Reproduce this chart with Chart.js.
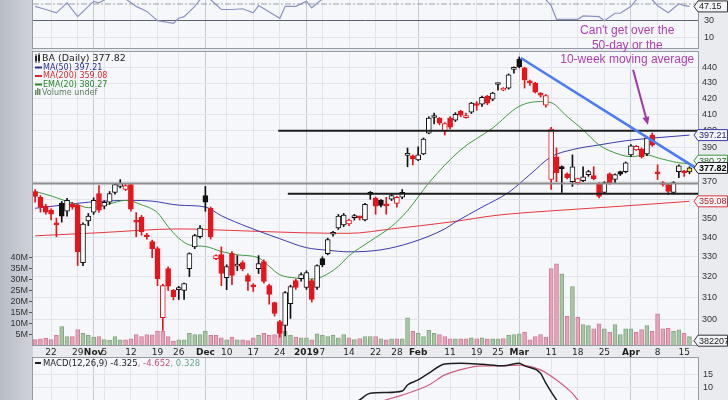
<!DOCTYPE html>
<html><head><meta charset="utf-8">
<script src="https://cdn.jsdelivr.net/npm/chart.js@4.4.1/dist/chart.umd.min.js"></script>
<style>
html,body{margin:0;padding:0;background:#e9ebef;}
#wrap{position:relative;width:728px;height:400px;overflow:hidden;background:#e9ebef;}
#strip{position:absolute;left:0;top:0;width:33px;height:400px;background:linear-gradient(90deg,#b8bcc5,#d0d3da);}
canvas{position:absolute;left:0;}
#cRsi{top:0;z-index:1}
#cMacd{top:356px;z-index:1}
#cPrice{top:0;z-index:2}
</style></head><body>
<div id="wrap"><div id="strip"></div>
<canvas id="cRsi" width="728" height="50"></canvas>
<canvas id="cMacd" width="728" height="44"></canvas>
<canvas id="cPrice" width="728" height="400"></canvas>
</div>
<script>
// ---------- DATA ----------
const dates = ['Oct 17','Oct 18','Oct 19','Oct 22','Oct 23','Oct 24','Oct 25','Oct 26','Oct 29','Oct 30','Oct 31',
'Nov 1','Nov 2','Nov 5','Nov 6','Nov 7','Nov 8','Nov 9','Nov 12','Nov 13','Nov 14','Nov 15','Nov 16','Nov 19','Nov 20','Nov 21','Nov 23','Nov 26','Nov 27','Nov 28','Nov 29','Nov 30',
'Dec 3','Dec 4','Dec 6','Dec 7','Dec 10','Dec 11','Dec 12','Dec 13','Dec 14','Dec 17','Dec 18','Dec 19','Dec 20','Dec 21','Dec 24','Dec 26','Dec 27','Dec 28','Dec 31',
'Jan 2','Jan 3','Jan 4','Jan 7','Jan 8','Jan 9','Jan 10','Jan 11','Jan 14','Jan 15','Jan 16','Jan 17','Jan 18','Jan 22','Jan 23','Jan 24','Jan 25','Jan 28','Jan 29','Jan 30','Jan 31',
'Feb 1','Feb 4','Feb 5','Feb 6','Feb 7','Feb 8','Feb 11','Feb 12','Feb 13','Feb 14','Feb 15','Feb 19','Feb 20','Feb 21','Feb 22','Feb 25','Feb 26','Feb 27','Feb 28',
'Mar 1','Mar 4','Mar 5','Mar 6','Mar 7','Mar 8','Mar 11','Mar 12','Mar 13','Mar 14','Mar 15','Mar 18','Mar 19','Mar 20','Mar 21','Mar 22','Mar 25','Mar 26','Mar 27','Mar 28','Mar 29',
'Apr 1','Apr 2','Apr 3','Apr 4','Apr 5','Apr 8','Apr 9','Apr 10','Apr 11','Apr 12','Apr 15','Apr 16'];
const firstDayIdx = -3; // Oct 22 = day 0

const openP = [364.5,361.3,356.4,
354.3,347.0,358.0,353.7,357.5,357.0,327.1,348.5,353.2,363.4,
356.4,358.6,364.0,367.3,365.6,368.4,348.5,350.6,341.0,337.7,
334.1,300.8,324.1,313.5,313.9,313.5,324.1,335.0,340.2,362.3,
355.3,329.1,331.1,319.7,331.6,325.3,327.1,320.7,315.5,324.1,
327.6,315.8,307.8,299.0,297.2,307.3,318.2,319.2,314.9,318.2,
314.9,329.1,331.6,341.5,344.8,346.4,346.9,350.3,350.6,349.0,
362.9,360.7,359.6,356.8,360.2,358.0,361.3,385.1,384.8,382.5,
386.0,398.4,408.0,407.6,399.6,407.6,406.3,411.9,407.9,411.3,
415.9,416.3,421.5,419.5,429.0,425.4,426.7,439.0,446.0,440.0,
431.4,430.0,423.4,415.7,371.2,384.3,378.5,374.5,370.0,369.5,
370.6,374.0,373.4,368.9,364.0,374.5,371.2,375.7,375.7,385.4,
388.3,388.9,386.0,397.2,375.1,369.5,368.4,364.0,375.7,375.1,
375.5];
const highP = [365.6,362.3,357.5,
355.0,350.0,359.0,360.7,358.6,357.5,347.5,352.5,361.0,367.8,
359.5,364.5,369.0,371.2,368.4,369.0,353.0,351.5,342.0,338.5,
335.0,316.5,325.0,314.0,315.5,317.0,332.0,341.5,346.0,367.3,
356.0,331.0,335.0,326.0,332.6,330.6,328.0,321.5,316.8,330.6,
328.5,316.5,308.0,299.5,313.0,316.0,319.0,322.0,323.0,319.0,
326.0,330.0,339.5,343.0,352.0,352.5,349.5,352.0,351.0,358.0,
364.5,361.5,360.0,361.3,363.0,361.8,365.6,389.5,385.5,390.1,
395.5,408.5,410.7,408.0,404.8,408.5,411.0,412.5,410.7,417.5,
418.0,421.5,422.0,424.0,430.0,427.0,436.0,440.7,447.4,440.5,
432.0,430.5,423.8,422.5,402.0,389.5,379.0,375.0,385.4,372.0,
378.5,376.5,378.5,369.5,370.0,375.0,374.5,376.0,381.3,391.5,
391.0,389.5,396.0,398.5,379.6,370.0,369.0,370.0,379.6,376.5,
378.5];
const lowP = [358.6,353.2,352.1,
349.0,340.2,347.9,351.1,354.8,325.6,325.6,346.0,352.0,353.0,
355.0,357.5,363.0,366.5,365.0,353.7,340.2,341.0,339.0,329.6,
315.8,295.0,313.5,309.0,309.2,309.2,320.2,334.1,339.5,353.7,
339.0,328.5,315.8,313.9,316.3,323.1,323.0,313.5,313.0,321.7,
317.0,307.0,301.5,292.0,292.5,300.4,314.0,318.0,314.0,308.0,
314.0,325.0,331.0,340.5,344.0,345.5,346.0,349.0,349.0,348.5,
360.2,352.1,356.0,352.1,359.5,355.9,360.5,378.5,379.6,382.0,
385.5,398.0,404.0,403.5,397.2,401.0,405.5,408.5,407.5,410.5,
412.5,415.0,416.0,418.5,425.4,425.0,426.0,436.5,440.0,426.7,
428.5,423.5,420.8,414.5,365.6,370.0,364.0,371.5,367.3,368.5,
370.0,373.0,371.0,361.0,363.5,368.5,369.5,373.5,375.0,384.5,
388.0,383.5,385.0,390.5,371.2,367.5,362.9,363.0,372.3,373.0,
374.5];
const closeP = [361.8,355.9,353.2,
352.1,346.4,351.1,359.6,355.9,332.6,346.9,351.1,359.6,354.3,
358.6,363.4,368.4,368.9,367.8,354.8,347.9,342.8,340.2,334.1,
319.2,315.8,315.5,310.6,314.9,316.8,331.6,340.8,344.8,358.6,
340.2,330.6,321.7,325.1,320.7,325.6,324.1,317.8,315.2,326.6,
317.8,311.6,302.7,293.6,312.5,315.4,315.0,321.2,322.2,309.2,
325.6,326.1,338.7,341.8,351.1,351.6,349.0,350.6,350.2,357.5,
363.1,356.4,356.9,356.6,362.3,361.3,364.0,385.6,383.1,385.4,
394.8,407.6,408.2,404.5,404.2,402.0,410.0,409.4,409.2,417.0,
415.5,420.8,417.0,423.4,429.3,426.7,435.4,439.3,440.7,432.0,
430.0,424.1,422.1,421.9,400.8,375.1,377.4,372.3,378.5,371.7,
372.8,375.7,371.7,361.8,369.5,369.3,374.0,374.2,380.8,390.7,
390.5,384.3,395.4,391.2,374.5,368.4,364.5,369.5,379.1,375.0,
377.82];
const prevCloseBeforeFirst = 366.0;
const volumeM = [2.5,2.8,3.1,
2.5,4.4,8.5,3.9,3.9,7.1,5.4,4.4,3.6,3.9,
2.5,2.2,3.9,2.4,2.4,2.8,4.8,3.9,4.8,4.7,
6.4,6.4,3.9,1.8,2.4,2.4,5.4,4.8,4.8,6.4,
4.4,4.4,3.3,2.4,3.6,2.4,2.4,2.0,3.3,4.4,
5.4,4.4,4.8,7.4,6.4,4.4,3.6,3.3,3.3,2.4,
5.1,4.4,3.9,4.4,3.3,4.8,3.3,2.5,3.0,3.9,
3.9,3.9,2.8,2.4,2.8,2.8,2.8,12.5,6.3,5.3,
3.9,6.7,5.4,4.8,3.9,2.8,2.8,2.8,2.8,3.3,
2.8,3.3,2.8,2.8,2.8,3.0,4.4,4.8,5.1,5.9,
2.4,3.9,4.8,3.6,35.0,37.2,32.7,13.2,26.8,12.8,
9.4,8.9,7.4,9.7,7.4,5.9,9.4,4.8,7.4,7.4,
5.9,7.1,8.9,6.3,14.3,7.4,7.7,6.3,7.0,5.5,
3.82];
const volumeLastLabel = '382207';

// overlays (day index, value)
const ma50Idx = [-3,2,7,15,19,24,29,32,37,43,48,52,56,62,68,74,76,81,86,90,94,98,103,108,113,120];
const ma50Val = [355.3,357.0,358.6,359.6,359.2,357.0,356.0,351.3,345.3,339.2,334.6,333.3,332.5,333.5,337.5,344.3,347.9,355.9,364.0,374.0,384.3,388.5,391.3,393.8,395.4,397.21];
const ma200Idx = [-3,9,24,34,47,56,64,75,84,96,107,120];
const ma200Val = [340.7,342.3,344.3,343.5,342.3,342.0,344.3,347.9,351.6,354.3,356.4,359.08];
const emaIdx = [-3,0,3,5,7,9,11,14,17,20,22,24,26,29,32,35,39,41,43,46,49,51,54,56,60,64,67,71,77,83,88,92,94,97,100,103,106,109,112,114,118,120];
const emaVal = [364.5,362.1,359.0,357.2,355.6,356.3,357.7,359.6,357.2,352.9,345.5,339.5,336.0,335.2,332.7,331.0,329.5,325.2,321.1,319.5,319.0,320.2,325.2,330.5,338.0,345.6,354.0,369.3,388.4,401.5,415.0,418.0,417.3,408.6,400.4,391.3,386.6,384.4,385.4,383.7,380.8,380.27];

// drawn annotations (day index, price)
const levelVal  = [399.9, 368.9, 363.3];
const levelFrom = [42.7, -3.4, 44.5];
const trendIdx = [88.3, 121.6];
const trendVal = [446.7, 377.0];
const noteLines = ["Can't get over the", "50-day or the", "10-week moving average"];
const noteAt = [108.3, 465.5];
const arrowFrom = [109.4, 438.7];
const arrowTo = [112.2, 403.4];

// RSI(14)
const rsiIdx = [-3,-1,1,3,5,7,8,9,11,13,14,16,18,20,23,24,25,27,28,29,30,32,34,36,38,39,43,44,46,48,49,51,55,60,67,75,85,92,94,95,99,100,103,104,106,107,109,110,112,113,114,116,118,119,120];
const rsiVal = [47.2,43.5,39.6,51.4,35.1,47.2,53.1,51.4,58,62,56,47.2,41.3,30.4,27.3,33.2,35.1,47.2,55,60,55,43.5,43.5,44.4,39.6,48.2,33.2,47.2,47.2,53.1,45.5,56,62,60,72,68,74,62,48,32,32,35.9,35.1,30.4,39.1,39.1,47.2,55,58,55,48,39.6,50.3,48,47.15];
const rsiTicks = [10, 30];
const rsiMid = 50;

// MACD(12,26,9)
const macdIdx = [-3,10,20,30,43,50,55,58,60,63,66,67,69,71,74,77,81,85,88,89,92,93,95,97,100,105,110,114,120];
const macdVal = [1.5,-2,-6,-8,-11,-6,1,5.0,7.6,7.9,8.5,10.9,12.9,15.6,19.2,19.5,19.1,18.5,19.5,18.5,15.6,11.6,5.0,0,-4,-7,-5,-4,-4.325];
const sigIdx = [-3,20,43,50,56,60,63,66,71,74,78,81,85,88,92,95,98,99,104,110,120];
const sigVal = [2,-4,-9,-7,-2,2.5,5.0,6.9,10.9,14.9,17.5,18.5,18.5,18.8,16.9,12.9,7.6,5.0,-2,-5,-4.652];
const histLast = 0.328;
const macdTicks = [10, 15];

// axes
const tickIdx = [0,5,8,10,15,20,24,29,33,38,43,48,51,56,61,65,69,75,80,84,88,94,99,104,109,114,119];
const tickText = ['22','29','Nov','5','12','19','26','Dec','10','17','24','2019','7','14','22','28','Feb','11','19','25','Mar','11','18','25','Apr','8','15'];
const tickMonth = [0,0,1,0,0,0,0,1,0,0,0,1,0,0,0,0,1,0,0,0,1,0,0,0,1,0,0];
const priceTicks = [290,300,310,320,330,340,350,360,370,380,390,400,410,420,430,440];
const volTicks = [5,10,15,20,25,30,35,40];

// ---------- STYLE / BUILD ----------
const XMIN = -3.4, XMAX = 121.6;
const PANEL_BG = '#f6f7fb';
const FONT = '"DejaVu Sans", sans-serif';
const FONT2 = '"Liberation Sans", Arial, sans-serif';
const dayX = closeP.map((_, i) => i + firstDayIdx);
const lastI = closeP.length - 1;
const upDay = closeP.map((c, i) => c >= (i ? closeP[i - 1] : prevCloseBeforeFirst));
const candleCol = upDay.map(u => u ? '#111111' : '#e8141b');
const bodyFill = closeP.map((c, i) => i === lastI ? '#f3e63c' : (c > openP[i] ? '#ffffff' : candleCol[i]));
const volFill = upDay.map(u => u ? '#a8c6a5' : '#e4a4b8');
const volBorder = upDay.map(u => u ? '#84a781' : '#cf7c99');
const pts = (ix, v) => ix.map((x, k) => ({x, y: v[k]}));

const xGridColor = c => tickMonth[c.index] ? '#c5c9d1' : '#e3e5eb';
function xAxisBase(extra) {
  return Object.assign({
    type: 'linear', min: XMIN, max: XMAX, offset: false,
    afterBuildTicks: s => { s.ticks = tickIdx.map(v => ({value: v})); },
    grid: {drawTicks: false, offset: false, color: xGridColor, lineWidth: 1},
    border: {display: false}
  }, extra);
}
const panelPlugin = {
  id: 'panel',
  beforeDraw(chart) {
    const a = chart.chartArea, c = chart.ctx;
    c.save(); c.fillStyle = PANEL_BG; c.fillRect(a.left, a.top, a.right - a.left, a.bottom - a.top); c.restore();
  }
};
function border(chart) {
  const a = chart.chartArea, c = chart.ctx;
  c.save(); c.strokeStyle = '#959ba6'; c.lineWidth = 1;
  c.strokeRect(a.left - 0.5, a.top - 0.5, a.right - a.left + 1, a.bottom - a.top + 1); c.restore();
}
function tag(c, y, text, col, txtCol, bold) {
  const x0 = 694, x1 = 727.5, h = 11;
  c.save();
  c.beginPath(); c.moveTo(x0, y); c.lineTo(x0 + 4, y - h / 2); c.lineTo(x1, y - h / 2); c.lineTo(x1, y + h / 2); c.lineTo(x0 + 4, y + h / 2); c.closePath();
  c.fillStyle = '#f3f4f7'; c.fill(); c.strokeStyle = col; c.lineWidth = 1; c.stroke();
  c.fillStyle = txtCol; c.font = (bold ? 'bold ' : '') + '9px ' + FONT2; c.textBaseline = 'middle'; c.textAlign = 'left';
  c.fillText(text, x0 + 5, y + 0.5);
  c.restore();
}

// ---------- PRICE PANEL ----------
const pricePlugin = {
  id: 'priceExtras',
  afterDraw(chart) {
    const c = chart.ctx, xs = chart.scales.x, ys = chart.scales.y, vs = chart.scales.vol;
    border(chart);
    // legend
    c.save();
    c.textBaseline = 'middle'; c.textAlign = 'left';
    c.fillStyle = '#222'; c.fillRect(35, 56, 2, 5); c.fillRect(38, 55, 2, 6); c.fillRect(35.5, 54, 1, 9); c.fillRect(38.5, 53, 1, 10);
    c.font = '9.5px ' + FONT; c.fillStyle = '#222'; c.fillText('BA (Daily) ' + closeP[lastI].toFixed(2), 42, 59);
    const leg = [['MA(50) ' + ma50Val[ma50Val.length - 1].toFixed(2), '#2d2d9c', 67.5],
                 ['MA(200) ' + ma200Val[ma200Val.length - 1].toFixed(2), '#e3262c', 76],
                 ['EMA(20) ' + emaVal[emaVal.length - 1].toFixed(2), '#2a872a', 84.5]];
    c.font = '8px ' + FONT;
    leg.forEach(([t, col, y]) => { c.fillStyle = col; c.fillRect(35, y - 1, 7, 2); c.fillText(t, 43, y); });
    c.fillStyle = '#6c8a6a'; c.fillRect(35, 90, 1.5, 5); c.fillRect(37, 88, 1.5, 7); c.fillRect(39, 89, 1.5, 6);
    c.fillStyle = '#5d7c5b'; c.fillText('Volume undef', 42, 93);
    // annotation text
    c.font = '12px ' + FONT2; c.fillStyle = '#b040b4'; c.textAlign = 'center';
    const nx = xs.getPixelForValue(noteAt[0]), ny = ys.getPixelForValue(noteAt[1]);
    noteLines.forEach((t, k) => c.fillText(t, nx, ny + k * 14.5));
    // arrow
    const ax0 = xs.getPixelForValue(arrowFrom[0]), ay0 = ys.getPixelForValue(arrowFrom[1]);
    const ax1 = xs.getPixelForValue(arrowTo[0]), ay1 = ys.getPixelForValue(arrowTo[1]);
    const ang = Math.atan2(ay1 - ay0, ax1 - ax0);
    c.strokeStyle = '#9b3aa8'; c.fillStyle = '#9b3aa8'; c.lineWidth = 2;
    c.beginPath(); c.moveTo(ax0, ay0); c.lineTo(ax1 - 6 * Math.cos(ang), ay1 - 6 * Math.sin(ang)); c.stroke();
    c.beginPath(); c.moveTo(ax1, ay1);
    c.lineTo(ax1 - 8 * Math.cos(ang) + 3.5 * Math.sin(ang), ay1 - 8 * Math.sin(ang) - 3.5 * Math.cos(ang));
    c.lineTo(ax1 - 8 * Math.cos(ang) - 3.5 * Math.sin(ang), ay1 - 8 * Math.sin(ang) + 3.5 * Math.cos(ang));
    c.closePath(); c.fill();
    c.restore();
    // value tags
    tag(c, ys.getPixelForValue(ma50Val[ma50Val.length - 1]), ma50Val[ma50Val.length - 1].toFixed(2), '#3a3ab0', '#23236e', false);
    tag(c, ys.getPixelForValue(emaVal[emaVal.length - 1]) - 3, emaVal[emaVal.length - 1].toFixed(2), '#3a9a3a', '#2a6a2a', false);
    tag(c, ys.getPixelForValue(ma200Val[ma200Val.length - 1]), ma200Val[ma200Val.length - 1].toFixed(2), '#e0383c', '#b02428', false);
    tag(c, Math.min(vs.getPixelForValue(volumeM[lastI]) + 4, 341), volumeLastLabel, '#333', '#222', false);
    tag(c, ys.getPixelForValue(closeP[lastI]), closeP[lastI].toFixed(2), '#222', '#000', true);
  }
};

const lineDs = (data, col, w, order, extra) => Object.assign({type: 'line', data, borderColor: col, borderWidth: w, pointRadius: 0, fill: false, order, yAxisID: 'y'}, extra || {});
const priceDatasets = [];
priceDatasets.push(lineDs(pts(trendIdx, trendVal), '#4b7cf2', 2.6, 0));
levelVal.forEach((v, k) => priceDatasets.push(lineDs([{x: levelFrom[k], y: v}, {x: XMAX, y: v}], k === 1 ? '#8c8c8c' : '#1e1e1e', 2, 0)));
priceDatasets.push({type: 'bar', data: dayX.map((x, i) => ({x, y: [openP[i], closeP[i]]})), backgroundColor: bodyFill, borderColor: candleCol, borderWidth: 1, borderSkipped: false, barThickness: 5, minBarLength: 2, grouped: false, order: 1, yAxisID: 'y'});
priceDatasets.push({type: 'bar', data: dayX.map((x, i) => ({x, y: [lowP[i], highP[i]]})), backgroundColor: candleCol, borderWidth: 0, barThickness: 1, grouped: false, order: 2, yAxisID: 'y'});
priceDatasets.push(lineDs(pts(emaIdx, emaVal), '#3f9a3f', 1, 3, {cubicInterpolationMode: 'monotone'}));
priceDatasets.push(lineDs(pts(ma50Idx, ma50Val), '#3b3bb0', 1, 3, {cubicInterpolationMode: 'monotone'}));
priceDatasets.push(lineDs(pts(ma200Idx, ma200Val), '#e4383c', 1, 3, {cubicInterpolationMode: 'monotone'}));
priceDatasets.push({type: 'bar', data: dayX.map((x, i) => ({x, y: volumeM[i]})), backgroundColor: volFill, borderColor: volBorder, borderWidth: 1, barThickness: 4, grouped: false, order: 9, yAxisID: 'vol'});

new Chart(document.getElementById('cPrice'), {
  type: 'bar',
  data: {labels: dates, datasets: priceDatasets},
  options: {
    responsive: false, animation: false, devicePixelRatio: 1,
    layout: {padding: {top: 52, left: 0, right: 0, bottom: 0}},
    plugins: {legend: {display: false}, tooltip: {enabled: false}},
    scales: {
      x: xAxisBase({
        position: 'bottom',
        afterFit: s => { s.height = 55; s.paddingLeft = 0; s.paddingRight = 0; },
        ticks: {autoSkip: false, maxRotation: 0, minRotation: 0, padding: 2, color: '#1e1e1e',
          callback: (v, i) => tickText[i],
          font: c => ({family: FONT, size: 9, weight: tickMonth[c.index] ? 'bold' : 'normal'})}
      }),
      y: {type: 'logarithmic', position: 'right', min: 288.5, max: 450.8,
        afterBuildTicks: s => { s.ticks = priceTicks.map(v => ({value: v})); },
        afterFit: s => { s.width = 30; s.paddingTop = 0; s.paddingBottom = 0; },
        ticks: {padding: 4, color: '#333', font: {family: FONT2, size: 9}, callback: v => String(v)},
        grid: {drawTicks: false, color: '#e3e5eb'}, border: {display: false}},
      vol: {type: 'linear', position: 'left', min: 0, max: 134.4,
        afterBuildTicks: s => { s.ticks = volTicks.map(v => ({value: v})); },
        afterFit: s => { s.width = 33; s.paddingTop = 0; s.paddingBottom = 0; },
        ticks: {padding: 1, color: '#333', font: {family: FONT2, size: 9}, callback: v => v + 'M'},
        grid: {drawOnChartArea: false, drawTicks: true, tickLength: 4, color: '#555'}, border: {display: false}}
    }
  },
  plugins: [panelPlugin, pricePlugin]
});

// ---------- RSI PANEL ----------
new Chart(document.getElementById('cRsi'), {
  type: 'line',
  data: {datasets: [
    {data: pts(rsiIdx, rsiVal), borderColor: '#8b93c2', borderWidth: 1.2, pointRadius: 0, tension: 0},
    {data: [{x: XMIN, y: rsiMid}, {x: XMAX, y: rsiMid}], borderColor: '#9aa0aa', borderWidth: 1, borderDash: [6, 2, 2, 2], pointRadius: 0}
  ]},
  options: {
    responsive: false, animation: false, devicePixelRatio: 1,
    layout: {padding: {left: 33, top: 0, right: 0, bottom: 0}},
    plugins: {legend: {display: false}, tooltip: {enabled: false}},
    scales: {
      x: xAxisBase({ticks: {display: false}, afterFit: s => { s.height = 2; s.paddingLeft = 0; s.paddingRight = 0; }}),
      y: {type: 'linear', position: 'right', min: -1.8, max: 54.7,
        afterBuildTicks: s => { s.ticks = rsiTicks.map(v => ({value: v})); },
        afterFit: s => { s.width = 30; s.paddingTop = 0; s.paddingBottom = 0; },
        ticks: {padding: 6, color: '#333', font: {family: FONT2, size: 9}},
        grid: {drawTicks: false, color: c => (c.tick && c.tick.value === 30) ? '#5d636e' : '#e3e5eb'}, border: {display: false}}
    }
  },
  plugins: [panelPlugin, {id: 'rsiExtras', afterDraw(chart) {
    border(chart);
    tag(chart.ctx, chart.scales.y.getPixelForValue(rsiVal[rsiVal.length - 1]), rsiVal[rsiVal.length - 1].toFixed(2), '#333', '#222', false);
  }}]
});

// ---------- MACD PANEL ----------
new Chart(document.getElementById('cMacd'), {
  type: 'line',
  data: {datasets: [
    {data: pts(macdIdx, macdVal), borderColor: '#1e1e1e', borderWidth: 1.5, pointRadius: 0, cubicInterpolationMode: 'monotone'},
    {data: pts(sigIdx, sigVal), borderColor: '#cf5f80', borderWidth: 1.2, pointRadius: 0, cubicInterpolationMode: 'monotone'}
  ]},
  options: {
    responsive: false, animation: false, devicePixelRatio: 1,
    layout: {padding: {left: 33, top: 2, right: 0, bottom: 0}},
    plugins: {legend: {display: false}, tooltip: {enabled: false}},
    scales: {
      x: xAxisBase({ticks: {display: false}, afterFit: s => { s.height = 0; s.paddingLeft = 0; s.paddingRight = 0; }}),
      y: {type: 'linear', position: 'right', min: 4.96, max: 21.6,
        afterBuildTicks: s => { s.ticks = macdTicks.map(v => ({value: v})); },
        afterFit: s => { s.width = 30; s.paddingTop = 0; s.paddingBottom = 0; },
        ticks: {padding: 5, color: '#333', font: {family: FONT2, size: 9}},
        grid: {drawTicks: false, color: '#e3e5eb'}, border: {display: false}}
    }
  },
  plugins: [panelPlugin, {id: 'macdExtras', afterDraw(chart) {
    border(chart);
    const c = chart.ctx; c.save();
    c.textBaseline = 'middle'; c.textAlign = 'left'; c.font = '8.5px ' + FONT;
    c.fillStyle = '#1e1e1e'; c.fillRect(35, 6, 6, 2);
    let x = 43; const y = 7.5;
    const parts = [['MACD(12,26,9) ' + macdVal[macdVal.length - 1].toFixed(3), '#1e1e1e'],
                   [', ' + sigVal[sigVal.length - 1].toFixed(3), '#c8507a'],
                   [', ' + histLast.toFixed(3), '#6aa890']];
    parts.forEach(([t, col]) => { c.fillStyle = col; c.fillText(t, x, y); x += c.measureText(t).width; });
    c.restore();
  }}]
});
</script>
</body></html>
